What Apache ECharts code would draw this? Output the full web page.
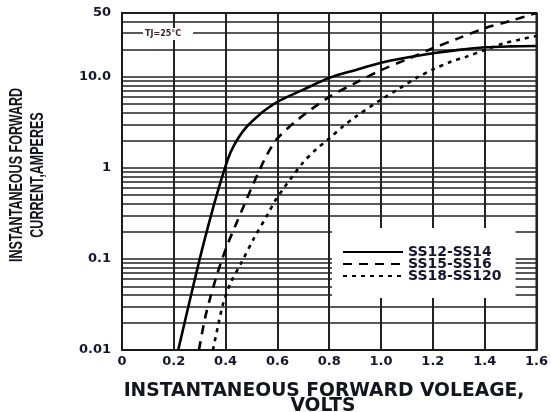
<!DOCTYPE html>
<html>
<head>
<meta charset="utf-8">
<script src="https://cdn.jsdelivr.net/npm/echarts@6/dist/echarts.min.js"></script>
<style>
  html, body { margin: 0; padding: 0; background: #fff; }
  #chart { width: 551px; height: 412px; }
</style>
</head>
<body>
<div id="chart"></div>
<script>
// series names (legend)
var seriesNames = ['SS12-SS14', 'SS15-SS16', 'SS18-SS120'];

// SS12-SS14, solid
var voltsA = [0.217, 0.30, 0.35, 0.38, 0.40, 0.42, 0.45, 0.48, 0.52, 0.55, 0.60, 0.70, 0.80, 0.90, 1.00, 1.10, 1.20, 1.30, 1.40, 1.50, 1.60];
var ampsA  = [0.01, 0.1, 0.35, 0.69, 1.05, 1.5, 2.15, 2.8, 3.6, 4.25, 5.3, 7.2, 9.7, 11.8, 14.2, 16.2, 18.1, 19.7, 21, 21.5, 21.7];

// SS15-SS16, dashed
var voltsB = [0.297, 0.32, 0.34, 0.36, 0.383, 0.41, 0.44, 0.47, 0.50, 0.53, 0.56, 0.60, 0.68, 0.80, 0.90, 1.00, 1.10, 1.20, 1.30, 1.40, 1.50, 1.60];
var ampsB  = [0.01, 0.022, 0.037, 0.058, 0.093, 0.15, 0.24, 0.38, 0.6, 0.93, 1.4, 2.1, 3.4, 6.0, 8.5, 11.8, 15.5, 20.5, 26.5, 34, 41, 50];

// SS18-SS120, dotted
var voltsC = [0.351, 0.37, 0.39, 0.42, 0.46, 0.51, 0.56, 0.59, 0.625, 0.66, 0.70, 0.75, 0.80, 0.85, 0.90, 1.00, 1.07, 1.14, 1.20, 1.27, 1.33, 1.40, 1.47, 1.54, 1.60];
var ampsC  = [0.01, 0.018, 0.032, 0.055, 0.09, 0.17, 0.3, 0.43, 0.6, 0.82, 1.15, 1.6, 2.1, 2.8, 3.6, 5.6, 7.4, 9.8, 12, 14.6, 16.6, 19.6, 23, 25.7, 28];

// y axis: labelled values and the grid lines of the log paper
var yLabelValues = [0.01, 0.1, 1, 10, 50];
var yGridValues = [
    0.01, 0.02, 0.03, 0.04, 0.05, 0.06, 0.07, 0.08, 0.09,
    0.1, 0.2, 0.3, 0.4, 0.5, 0.6, 0.7, 0.8, 0.9,
    1, 2, 3, 4, 5, 6, 7, 8, 9,
    10, 20, 30, 40, 50
];

function pairs(xs, ys) {
    return xs.map(function (x, i) { return [x, ys[i]]; });
}

var tickFont = {
    color: '#151530',
    fontFamily: 'DejaVu Sans',
    fontWeight: 'bold',
    fontSize: 13
};

var lineTypes = ['solid', [9, 7], [4, 5]];
var seriesData = [pairs(voltsA, ampsA), pairs(voltsB, ampsB), pairs(voltsC, ampsC)];

var option = {
    animation: false,
    backgroundColor: '#fff',
    grid: {
        left: 122,
        right: 12,
        top: 13,
        bottom: 62,
        show: true,
        borderColor: '#1a1a1a',
        borderWidth: 2
    },
    legend: {
        orient: 'vertical',
        left: 332,
        top: 228,
        padding: [17, 14, 15, 10],
        itemGap: -2,
        itemWidth: 60,
        itemHeight: 10,
        backgroundColor: '#fff',
        data: seriesNames,
        itemStyle: { opacity: 0 },
        textStyle: {
            color: '#151530',
            fontFamily: 'DejaVu Sans',
            fontWeight: 'bold',
            fontSize: 14,
            lineHeight: 12
        }
    },
    xAxis: {
        type: 'value',
        min: 0,
        max: 1.6,
        interval: 0.2,
        axisLine: { show: true, lineStyle: { color: '#1a1a1a', width: 2 } },
        axisTick: { show: false },
        axisLabel: {
            margin: 5,
            color: tickFont.color,
            fontFamily: tickFont.fontFamily,
            fontWeight: tickFont.fontWeight,
            fontSize: tickFont.fontSize,
            formatter: function (v) { return v === 0 ? '0' : v.toFixed(1); }
        },
        splitLine: { show: true, lineStyle: { color: '#222', width: 2 } }
    },
    yAxis: {
        type: 'log',
        logBase: 10,
        min: 0.01,
        max: 50,
        axisLine: { show: true, lineStyle: { color: '#1a1a1a', width: 2 } },
        axisTick: { show: false, customValues: yGridValues },
        axisLabel: {
            margin: 11,
            customValues: yLabelValues,
            color: tickFont.color,
            fontFamily: tickFont.fontFamily,
            fontWeight: tickFont.fontWeight,
            fontSize: tickFont.fontSize,
            formatter: function (v) { return v === 10 ? '10.0' : String(v); }
        },
        splitLine: { show: true, lineStyle: { color: '#222', width: 1.6 } }
    },
    graphic: [
        {
            type: 'text',
            x: 27,
            y: 175,
            rotation: Math.PI / 2,
            scaleX: 0.66,
            style: {
                text: 'INSTANTANEOUS FORWARD\nCURRENT,AMPERES',
                font: 'bold 19px "Liberation Sans"',
                lineHeight: 21,
                fill: '#151520',
                textAlign: 'center',
                textVerticalAlign: 'middle'
            }
        },
        {
            type: 'text',
            x: 324,
            y: 391,
            style: {
                text: 'INSTANTANEOUS FORWARD VOLEAGE,',
                font: 'bold 18.7px "DejaVu Sans"',
                fill: '#151520',
                textAlign: 'center',
                textVerticalAlign: 'middle'
            }
        },
        {
            type: 'text',
            x: 323,
            y: 406,
            style: {
                text: 'VOLTS',
                font: 'bold 18.7px "DejaVu Sans"',
                fill: '#151520',
                textAlign: 'center',
                textVerticalAlign: 'middle'
            }
        },
        {
            type: 'text',
            x: 143,
            y: 34,
            z: 10,
            style: {
                text: 'TJ=25°C',
                font: 'bold 8px "DejaVu Sans"',
                fill: '#402030',
                backgroundColor: '#fff',
                padding: [2, 12, 2, 2],
                textAlign: 'left',
                textVerticalAlign: 'middle'
            }
        }
    ],
    series: seriesNames.map(function (name, i) {
        return {
            name: name,
            type: 'line',
            data: seriesData[i],
            smooth: 0.3,
            showSymbol: false,
            symbol: 'none',
            clip: true,
            lineStyle: { color: '#000', width: 2.6, type: lineTypes[i] },
            itemStyle: { color: '#000' },
            z: 3
        };
    })
};

var myChart = echarts.init(document.getElementById('chart'));
myChart.setOption(option);
</script>
</body>
</html>
